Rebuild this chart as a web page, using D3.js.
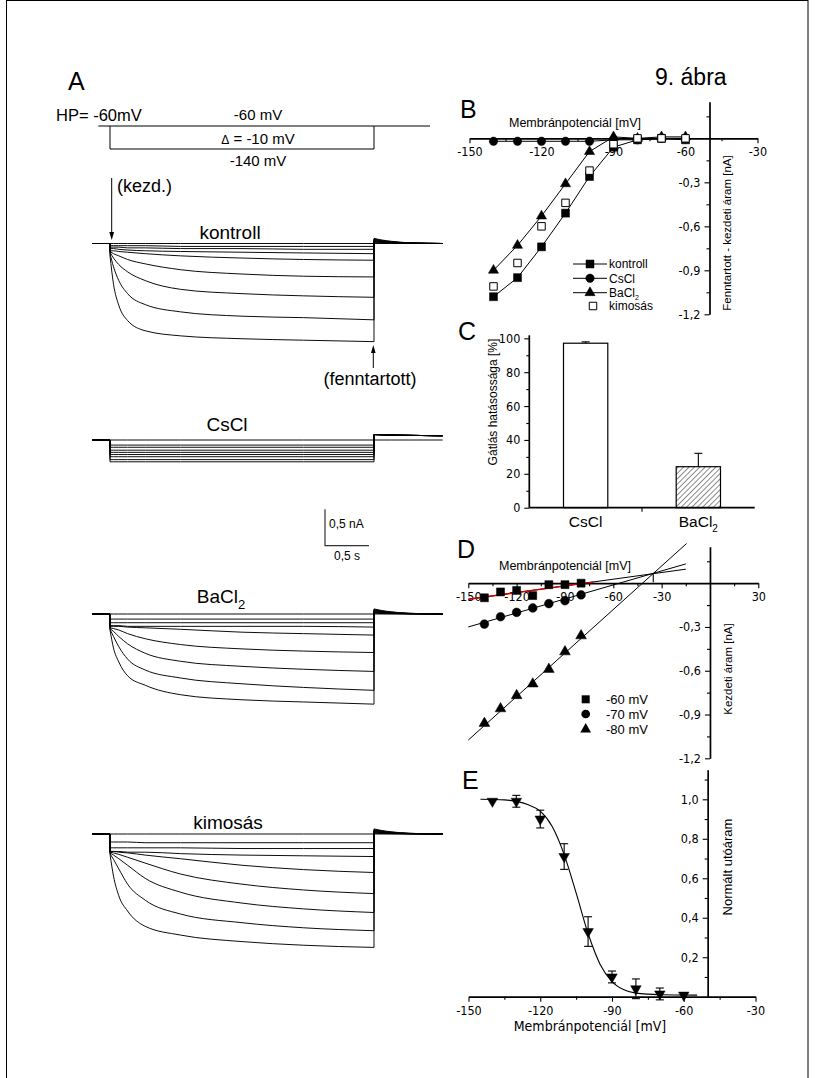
<!DOCTYPE html>
<html><head><meta charset="utf-8">
<script src="https://cdn.jsdelivr.net/npm/d3@7"></script>
<style>body{margin:0;background:#fff}svg{display:block}</style>
</head><body>
<svg id="chart" width="815" height="1078"></svg>
<script>
// ---------------- DATA ----------------
// Panel A: current traces (nA, inward negative) sampled at traceTimes (s) during the pulse
const sweepVoltages = [-60,-70,-80,-90,-100,-110,-120,-130,-140];
const traceTimes = [0,0.04,0.1,0.2,0.4,0.8,1.5,2.2,3.0];
const tailTimes = [3.0,3.08,3.2,3.4,3.78];

const kontrollTraces = [
 [0,0,0,0,0,0,0,0,0],
 [-0.03,-0.03,-0.03,-0.03,-0.03,-0.04,-0.04,-0.04,-0.04],
 [-0.05,-0.05,-0.05,-0.06,-0.06,-0.07,-0.07,-0.08,-0.08],
 [-0.07,-0.07,-0.08,-0.09,-0.10,-0.11,-0.12,-0.13,-0.14],
 [-0.10,-0.10,-0.11,-0.12,-0.14,-0.17,-0.20,-0.22,-0.23],
 [-0.11,-0.14,-0.17,-0.22,-0.28,-0.36,-0.42,-0.45,-0.46],
 [-0.12,-0.20,-0.29,-0.39,-0.51,-0.63,-0.69,-0.72,-0.74],
 [-0.14,-0.32,-0.51,-0.69,-0.84,-0.94,-1.00,-1.02,-1.05],
 [-0.17,-0.56,-0.85,-1.06,-1.20,-1.27,-1.31,-1.33,-1.35]
];
const csclTraces = [
 [0,0,0,0,0,0,0,0,0],
 [-0.07,-0.07,-0.07,-0.07,-0.07,-0.07,-0.07,-0.07,-0.07],
 [-0.10,-0.10,-0.10,-0.10,-0.10,-0.10,-0.10,-0.10,-0.10],
 [-0.14,-0.14,-0.14,-0.14,-0.14,-0.14,-0.14,-0.14,-0.14],
 [-0.17,-0.17,-0.17,-0.17,-0.17,-0.17,-0.17,-0.17,-0.17],
 [-0.20,-0.20,-0.20,-0.20,-0.20,-0.20,-0.20,-0.20,-0.20],
 [-0.23,-0.23,-0.23,-0.23,-0.23,-0.23,-0.23,-0.23,-0.23],
 [-0.27,-0.27,-0.27,-0.27,-0.27,-0.27,-0.27,-0.27,-0.27],
 [-0.30,-0.30,-0.30,-0.30,-0.30,-0.30,-0.30,-0.30,-0.30]
];
const baclTraces = [
 [0,0,0,0,0,0,0,0,0],
 [-0.07,-0.07,-0.07,-0.07,-0.07,-0.07,-0.07,-0.07,-0.07],
 [-0.12,-0.12,-0.12,-0.12,-0.12,-0.12,-0.12,-0.12,-0.12],
 [-0.16,-0.16,-0.16,-0.17,-0.17,-0.17,-0.17,-0.17,-0.18],
 [-0.17,-0.17,-0.17,-0.18,-0.19,-0.21,-0.25,-0.27,-0.29],
 [-0.19,-0.20,-0.22,-0.27,-0.34,-0.42,-0.48,-0.51,-0.53],
 [-0.20,-0.24,-0.31,-0.41,-0.54,-0.65,-0.72,-0.76,-0.79],
 [-0.21,-0.31,-0.45,-0.62,-0.77,-0.88,-0.96,-1.01,-1.05],
 [-0.22,-0.47,-0.66,-0.85,-0.98,-1.11,-1.18,-1.21,-1.24]
];
const kimosasTraces = [
 [0,0,0,0,0,0,0,0,0],
 [-0.11,-0.11,-0.11,-0.11,-0.12,-0.12,-0.12,-0.12,-0.12],
 [-0.19,-0.19,-0.19,-0.19,-0.19,-0.19,-0.20,-0.20,-0.20],
 [-0.24,-0.24,-0.24,-0.25,-0.25,-0.27,-0.29,-0.30,-0.31],
 [-0.24,-0.24,-0.25,-0.26,-0.29,-0.34,-0.43,-0.49,-0.53],
 [-0.25,-0.26,-0.28,-0.32,-0.40,-0.55,-0.69,-0.77,-0.82],
 [-0.26,-0.29,-0.34,-0.43,-0.61,-0.80,-0.95,-1.03,-1.08],
 [-0.27,-0.35,-0.48,-0.69,-0.91,-1.10,-1.22,-1.29,-1.33],
 [-0.28,-0.58,-0.85,-1.06,-1.27,-1.39,-1.48,-1.53,-1.56]
];
const tailCurrents = [
 [0,0,0,0,0],
 [0.01,0.007,0.004,0.001,0],
 [0.02,0.014,0.008,0.003,0],
 [0.03,0.02,0.012,0.004,0],
 [0.035,0.025,0.014,0.005,0],
 [0.045,0.03,0.018,0.006,0],
 [0.055,0.038,0.022,0.008,0],
 [0.06,0.042,0.025,0.009,0],
 [0.07,0.05,0.03,0.01,0]
];
const csclTails = [
 [0,0,0,0,0],
 [0.075,0.072,0.068,0.064,0.058],[0.075,0.072,0.068,0.064,0.058],
 [0.075,0.072,0.068,0.064,0.058],[0.075,0.072,0.068,0.064,0.058],
 [0.075,0.072,0.068,0.064,0.058],[0.075,0.072,0.068,0.064,0.058],
 [0.075,0.072,0.068,0.064,0.058],[0.075,0.072,0.068,0.064,0.058]
];
const scaleBarCurrent = 0.5; // nA
const scaleBarTime = 0.5;    // s

// Panel B: I-V (sustained - initial current, nA)
const ivVoltages = [-140,-130,-120,-110,-100,-90,-80,-70,-60];
const ivKontroll = [-1.08,-0.95,-0.74,-0.51,-0.26,-0.06,-0.01,0,-0.01];
const ivCsCl     = [-0.02,-0.02,-0.02,-0.02,-0.02,-0.01,-0.01,0,0];
const ivBaCl2    = [-0.90,-0.73,-0.53,-0.31,-0.09,0.01,0,0.01,0.01];
const ivKimosas  = [-1.01,-0.85,-0.60,-0.44,-0.22,-0.04,0,0,0];
const bXTicks = [-150,-120,-90,-60,-30], bXMinor = [-135,-105,-75,-45];
const bYTicks = [-1.2,-0.9,-0.6,-0.3], bYMinor = [-1.05,-0.75,-0.45,-0.15,0.15];

// Panel C: inhibition (%)
const cCategories = ["CsCl","BaCl2"];
const cValues = [97.1, 24.2];
const cErrors = [0.8, 7.9];
const cYTicks = [0,20,40,60,80,100], cYMinor = [10,30,50,70,90];

// Panel D: initial current vs membrane potential at three holding potentials
const dVoltages = [-140,-130,-120,-110,-100,-90,-80];
const d60 = [-0.10,-0.06,-0.05,-0.085,-0.01,-0.01,0];
const d70 = [-0.28,-0.23,-0.20,-0.17,-0.14,-0.12,-0.08];
const d80 = [-0.96,-0.86,-0.77,-0.69,-0.59,-0.47,-0.36];
const dFit60 = [[-150,-0.11],[-15,0.096]];
const dFit60Red = [[-150,-0.11],[-72,0.009]];
const dFit70 = [[-150,-0.30],[-15,0.132]];
const dFit80 = [[-150,-1.075],[-14.5,0.272]];
const dReversal = [-35.2, 0.068];
const dXTicks = [-150,-120,-90,-60,-30,30], dXMinor = [-135,-105,-75,-45,-15,15];

// Panel E: normalized tail current
const eVoltages = [-140,-130,-120,-110,-100,-90,-80,-70,-60];
const eValues = [0.99,0.99,0.90,0.71,0.33,0.10,0.04,0.014,0.008];
const eErrors = [0,0.03,0.045,0.065,0.075,0.03,0.05,0.03,0];
const eFit = [[-145,1.0],[-135,0.997],[-125,0.972],[-120,0.94],[-115,0.862],[-110,0.72],[-105,0.526],[-100,0.32],[-95,0.165],[-90,0.077],[-85,0.035],[-80,0.018],[-70,0.01],[-54.4,0.008]];
const eXTicks = [-150,-120,-90,-60,-30], eXMinor = [-135,-105,-75,-45];
const eYTicks = [0.2,0.4,0.6,0.8,1.0], eYMinor = [0.1,0.3,0.5,0.7,0.9,1.1];

// ---------------- DRAWING ----------------
const SANS = "'Liberation Sans', Arial, Helvetica, sans-serif";
const NARROW = "'Liberation Sans Narrow', 'Arial Narrow', 'DejaVu Sans Condensed', 'Liberation Sans', sans-serif";
const svg = d3.select("#chart");
svg.append("rect").attr("width",815).attr("height",1078).attr("fill","#fff");
svg.append("rect").attr("x",6.5).attr("y",0.5).attr("width",801.5).attr("height",1100)
  .attr("fill","none").attr("stroke","#000").attr("stroke-width",1);

function text(x, y, s, size, opts = {}) {
  const t = svg.append("text").attr("x", x).attr("y", y).attr("font-size", size)
    .attr("font-family", opts.family || SANS).attr("fill", "#000")
    .attr("text-anchor", opts.anchor || "start");
  if (opts.rotate) t.attr("transform", `rotate(${opts.rotate},${x},${y})`);
  t.text(s);
  return t;
}
function subText(x, y, base, sub, size, subSize, dy, anchor) {
  const t = svg.append("text").attr("x", x).attr("y", y).attr("font-size", size)
    .attr("font-family", SANS).attr("text-anchor", anchor || "start");
  t.append("tspan").text(base);
  t.append("tspan").attr("font-size", subSize).attr("dy", dy).text(sub);
  return t;
}

// ---- Panel A ----
text(68, 90, "A", 25);
text(655, 85, "9. ábra", 23);
const tScale = d3.scaleLinear().domain([0, 3]).range([110, 374]);
function iScale(base) { return d3.scaleLinear().domain([0, -1]).range([base, base + 72.7]); }

// protocol schematic
const protoTop = 126, protoBot = 149;
svg.append("line").attr("x1", tScale(-0.2) + 6).attr("x2", 430).attr("y1", protoTop).attr("y2", protoTop).attr("stroke", "#000").attr("stroke-width", 1);
svg.append("path").attr("d", `M${tScale(0)},${protoTop}V${protoBot}H${tScale(3)}V${protoTop}`).attr("fill", "none").attr("stroke", "#000").attr("stroke-width", 1);
text(56, 121, "HP= -60mV", 16.5);
text(258, 120, "-60 mV", 15, {anchor: "middle"});
const dt = svg.append("text").attr("x", 258).attr("y", 144).attr("text-anchor", "middle").attr("font-family", SANS).attr("font-size", 15);
dt.append("tspan").attr("font-size", 12).text("Δ");
dt.append("tspan").text(" = -10 mV");
text(258, 166, "-140 mV", 15, {anchor: "middle"});

// arrows
svg.append("line").attr("x1", 111.7).attr("x2", 111.7).attr("y1", 178).attr("y2", 233).attr("stroke", "#000").attr("stroke-width", 1);
svg.append("path").attr("d", "M111.7,240 L109.3,232 L114.1,232 Z").attr("fill", "#000");
text(117, 192, "(kezd.)", 18);
svg.append("line").attr("x1", 373.3).attr("x2", 373.3).attr("y1", 352).attr("y2", 368).attr("stroke", "#000").attr("stroke-width", 1);
svg.append("path").attr("d", "M373.3,345 L371,353 L375.6,353 Z").attr("fill", "#000");
text(370, 385, "(fenntartott)", 18, {anchor: "middle"});

function drawSet(base, traces, tails) {
  const yS = iScale(base);
  const g = svg.append("g").attr("fill", "none").attr("stroke", "#000").attr("stroke-width", 0.95);
  const lin = d3.line().x(d => tScale(d[0])).y(d => yS(d[1]));
  const mono = d3.line().x(d => tScale(d[0])).y(d => yS(d[1])).curve(d3.curveMonotoneX);
  traces.forEach((tr, i) => {
    const tl = tails[i];
    g.append("path").attr("d", lin([[-0.2, 0], [0, 0], [0, tr[0]]]));
    g.append("path").attr("d", mono(traceTimes.map((t, j) => [t, tr[j]])));
    g.append("path").attr("d", lin([[3, tr[tr.length - 1]], [3, tl[0]]]));
    g.append("path").attr("d", mono(tailTimes.map((t, j) => [t, tl[j]])));
  });
}
drawSet(243.5, kontrollTraces, tailCurrents);
drawSet(440, csclTraces, csclTails);
drawSet(614, baclTraces, tailCurrents);
drawSet(834, kimosasTraces, tailCurrents);
text(230, 239, "kontroll", 19, {anchor: "middle"});
text(227, 431, "CsCl", 19, {anchor: "middle"});
subText(221, 603, "BaCl", "2", 19, 13, 6, "middle");
text(228, 829, "kimosás", 19, {anchor: "middle"});

// scale bar
{
  const yS = iScale(545.7);
  const x0 = 325;
  const x1 = x0 + (tScale(scaleBarTime) - tScale(0));
  const top = 545.7 - (yS(-scaleBarCurrent) - yS(0));
  svg.append("path").attr("d", `M${x0},${top}V545.7H${x1}`).attr("fill", "none").attr("stroke", "#333").attr("stroke-width", 1.2);
  text(329, 528, "0,5 nA", 12);
  text((x0 + x1) / 2, 560, "0,5 s", 12, {anchor: "middle"});
}

// ---- axis helper ----
function axis(transform, axisFn, scale, major, minor, fmt, fs) {
  const g = svg.append("g").attr("transform", transform);
  const a = g.append("g").call(axisFn(scale).tickValues(major).tickSize(5).tickSizeOuter(0).tickPadding(4).tickFormat(fmt));
  a.attr("font-family", NARROW).attr("font-size", fs || 12.5);
  a.select(".domain").attr("stroke-width", 1.7);
  a.selectAll(".tick line").attr("stroke-width", 1.1);
  if (minor && minor.length) {
    const m = g.append("g").call(axisFn(scale).tickValues(minor).tickSize(3).tickSizeOuter(0).tickFormat(""));
    m.select(".domain").remove();
    m.selectAll(".tick line").attr("stroke-width", 1.1);
  }
  return g;
}
const intFmt = d => String(d);
const decFmt = d => d.toFixed(1).replace(".", ",");
const sym = (type, size) => d3.symbol().type(type).size(size)();

// ---- Panel B ----
text(460, 118, "B", 25);
const xB = d3.scaleLinear().domain([-150, -30]).range([469.5, 757.5]);
const yB = d3.scaleLinear().domain([-1.2, 0.25]).range([314.3, 101.7]);
axis(`translate(0,${yB(0)})`, d3.axisBottom, xB, bXTicks, bXMinor, intFmt);
axis(`translate(${xB(-50)},0)`, d3.axisLeft, yB, bYTicks, bYMinor, decFmt);
text(575, 127, "Membránpotenciál [mV]", 12.5, {anchor: "middle"});
text(731, 233, "Fenntartott - kezdeti áram [nA]", 11.5, {anchor: "middle", rotate: -90});
const lineB = d3.line().x((d, i) => xB(ivVoltages[i])).y(d => yB(d));
[ivKontroll, ivCsCl, ivBaCl2].forEach(s => {
  svg.append("path").attr("d", lineB(s)).attr("fill", "none").attr("stroke", "#000").attr("stroke-width", 1);
});
function markers(vals, xs, xS, yS, shape, size, fill, rot) {
  svg.append("g").selectAll("path").data(vals).join("path")
    .attr("d", sym(shape, size))
    .attr("transform", (d, i) => `translate(${xS(xs[i])},${yS(d)})${rot ? " rotate(180)" : ""}`)
    .attr("fill", fill).attr("stroke", "#000").attr("stroke-width", fill === "#fff" ? 1 : 0.5);
}
markers(ivCsCl, ivVoltages, xB, yB, d3.symbolCircle, 56, "#000");
markers(ivBaCl2, ivVoltages, xB, yB, d3.symbolTriangle, 45, "#000");
markers(ivKontroll, ivVoltages, xB, yB, d3.symbolSquare, 64, "#000");
markers(ivKimosas, ivVoltages, xB, yB, d3.symbolSquare, 56, "#fff");
// legend B
const legB = [
  {name: "kontroll", shape: d3.symbolSquare, size: 64, fill: "#000", line: true},
  {name: "CsCl", shape: d3.symbolCircle, size: 56, fill: "#000", line: true},
  {name: "BaCl", sub: "2", shape: d3.symbolTriangle, size: 45, fill: "#000", line: true},
  {name: "kimosás", shape: d3.symbolSquare, size: 56, fill: "#fff", line: false}
];
const legBY = [264, 278.3, 292.7, 306];
legB.forEach((l, i) => {
  const y = legBY[i];
  if (l.line) svg.append("line").attr("x1", 573).attr("x2", 607).attr("y1", y).attr("y2", y).attr("stroke", "#000").attr("stroke-width", 1);
  svg.append("path").attr("d", sym(l.shape, l.size)).attr("transform", `translate(${l.line ? 590 : 593},${y})`)
    .attr("fill", l.fill).attr("stroke", "#000").attr("stroke-width", l.fill === "#fff" ? 1 : 0.5);
  if (l.sub) subText(609, y + 4.3, l.name, l.sub, 12, 7, 3);
  else text(609, y + 4.3, l.name, 12);
});

// ---- Panel C ----
text(458, 340, "C", 25);
const xC = d3.scaleBand().domain(cCategories).range([529.3, 754.7]).paddingInner(0.607).paddingOuter(0.3035);
const yC = d3.scaleLinear().domain([0, 100]).range([507.7, 338.3]);
const defs = svg.append("defs");
const pat = defs.append("pattern").attr("id", "hatch").attr("patternUnits", "userSpaceOnUse")
  .attr("width", 3.8).attr("height", 3.8).attr("patternTransform", "rotate(45)");
pat.append("rect").attr("width", 3.8).attr("height", 3.8).attr("fill", "#fff");
pat.append("line").attr("x1", 0).attr("y1", 0).attr("x2", 0).attr("y2", 3.8).attr("stroke", "#000").attr("stroke-width", 0.9);
svg.append("g").selectAll("rect").data(cValues).join("rect")
  .attr("x", (d, i) => xC(cCategories[i])).attr("width", xC.bandwidth())
  .attr("y", d => yC(d)).attr("height", d => yC(0) - yC(d))
  .attr("fill", (d, i) => i === 1 ? "url(#hatch)" : "#fff").attr("stroke", "#000").attr("stroke-width", 1.2);
const errC = svg.append("g").attr("stroke", "#000").attr("stroke-width", 1.1);
cValues.forEach((v, i) => {
  const cx = xC(cCategories[i]) + xC.bandwidth() / 2;
  errC.append("line").attr("x1", cx).attr("x2", cx).attr("y1", yC(v)).attr("y2", yC(v + cErrors[i]));
  errC.append("line").attr("x1", cx - 4).attr("x2", cx + 4).attr("y1", yC(v + cErrors[i])).attr("y2", yC(v + cErrors[i]));
});
{
  const g = axis(`translate(529.3,0)`, d3.axisLeft, yC, cYTicks, cYMinor, intFmt, 12.5);
  g.select(".domain").attr("d", `M0,${yC(0)}V${yC(100) - 3}`);
  svg.append("line").attr("x1", 529.3).attr("x2", 754.7).attr("y1", yC(0)).attr("y2", yC(0)).attr("stroke", "#000").attr("stroke-width", 1.7);
  svg.append("line").attr("x1", 642).attr("x2", 642).attr("y1", yC(0)).attr("y2", yC(0) + 4).attr("stroke", "#000").attr("stroke-width", 1.1);
}
text(xC("CsCl") + xC.bandwidth() / 2, 527, "CsCl", 15.5, {anchor: "middle"});
subText(xC("BaCl2") + xC.bandwidth() / 2, 527, "BaCl", "2", 15.5, 10, 5, "middle");
text(497, 402, "Gátlás hatásossága [%]", 12, {anchor: "middle", rotate: -90});

// ---- Panel D ----
text(457, 558, "D", 25);
const xD = d3.scaleLinear().domain([-150, 30]).range([468.3, 758.3]);
const yD = d3.scaleLinear().domain([-1.2, 0.25]).range([758.3, 546.7]);
axis(`translate(0,${yD(0)})`, d3.axisBottom, xD, dXTicks, dXMinor, intFmt);
axis(`translate(${xD(0)},0)`, d3.axisLeft, yD, bYTicks, bYMinor, decFmt);
text(565, 569.5, "Membránpotenciál [mV]", 12.5, {anchor: "middle"});
text(732, 669, "Kezdeti áram [nA]", 11.5, {anchor: "middle", rotate: -90});
const lineD = d3.line().x(d => xD(d[0])).y(d => yD(d[1]));
[dFit60, dFit70, dFit80].forEach(f => svg.append("path").attr("d", lineD(f)).attr("fill", "none").attr("stroke", "#000").attr("stroke-width", 1));
svg.append("path").attr("d", lineD(dFit60Red)).attr("fill", "none").attr("stroke", "#d00000").attr("stroke-width", 1.3);
svg.append("line").attr("x1", xD(dReversal[0])).attr("x2", xD(dReversal[0])).attr("y1", yD(dReversal[1])).attr("y2", yD(0) - 1).attr("stroke", "#000").attr("stroke-width", 1.1);
markers(d60, dVoltages, xD, yD, d3.symbolSquare, 64, "#000");
markers(d70, dVoltages, xD, yD, d3.symbolCircle, 60, "#000");
markers(d80, dVoltages, xD, yD, d3.symbolTriangle, 50, "#000");
const legD = [["-60 mV", d3.symbolSquare, 64], ["-70 mV", d3.symbolCircle, 60], ["-80 mV", d3.symbolTriangle, 50]];
const legDY = [699.3, 714, 729.3];
legD.forEach((l, i) => {
  svg.append("path").attr("d", sym(l[1], l[2])).attr("transform", `translate(585.7,${legDY[i]})`).attr("fill", "#000");
  text(606, legDY[i] + 4.6, l[0], 13);
});

// ---- Panel E ----
text(462, 789, "E", 25);
const xE = d3.scaleLinear().domain([-150, -30]).range([468.5, 755.5]);
const yE = d3.scaleLinear().domain([0, 1.15]).range([996.7, 769.7]);
axis(`translate(0,${yE(0)})`, d3.axisBottom, xE, eXTicks, eXMinor, intFmt);
axis(`translate(${xE(-50)},0)`, d3.axisLeft, yE, eYTicks, eYMinor, decFmt);
text(590, 1031, "Membránpotenciál [mV]", 14, {anchor: "middle", family: NARROW});
text(731.5, 867, "Normált utóáram", 13, {anchor: "middle", rotate: -90});
svg.append("path").attr("d", d3.line().x(d => xE(d[0])).y(d => yE(d[1])).curve(d3.curveMonotoneX)(eFit))
  .attr("fill", "none").attr("stroke", "#000").attr("stroke-width", 1.1);
const errE = svg.append("g").attr("stroke", "#000").attr("stroke-width", 1.1);
eValues.forEach((v, i) => {
  if (!eErrors[i]) return;
  const cx = xE(eVoltages[i]);
  const y1 = yE(v - eErrors[i]), y2 = yE(v + eErrors[i]);
  errE.append("line").attr("x1", cx).attr("x2", cx).attr("y1", y1).attr("y2", y2);
  errE.append("line").attr("x1", cx - 4).attr("x2", cx + 4).attr("y1", y1).attr("y2", y1);
  errE.append("line").attr("x1", cx - 4).attr("x2", cx + 4).attr("y1", y2).attr("y2", y2);
});
markers(eValues, eVoltages, xE, yE, d3.symbolTriangle, 48, "#000", true);
</script>
</body></html>
